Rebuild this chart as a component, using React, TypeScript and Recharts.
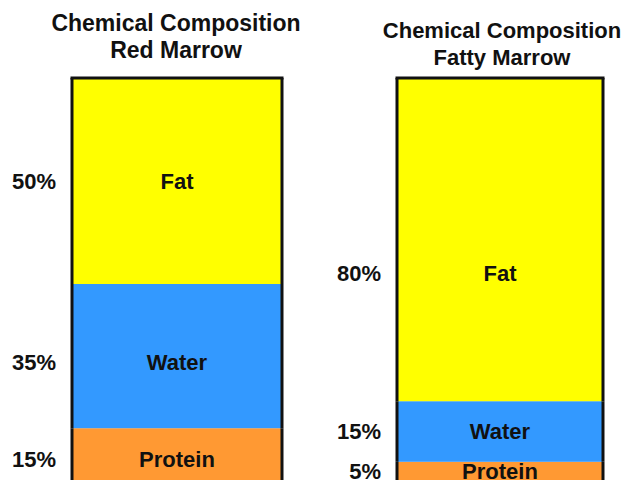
import React from 'react';
import { BarChart, Bar, XAxis, YAxis, LabelList } from 'recharts';

// stacked from the bottom up
const segments = ['Protein', 'Water', 'Fat'];
const segmentColors = ['#ff9933', '#3399ff', '#ffff00'];
const redMarrow = [15, 35, 50];
const fattyMarrow = [5, 15, 80];
const titleTop = 'Chemical Composition';
const marrowNames = ['Red Marrow', 'Fatty Marrow'];

const FONT = '"Liberation Sans", Arial, sans-serif';
const INK = '#111';

const toRow = (name: string, values: number[]) => {
  const row: Record<string, any> = { name };
  segments.forEach((s, i) => (row[s] = values[i]));
  return row;
};

// fill plus the outer frame only (no lines between segments)
const framed = (fill: string, isBottom: boolean, isTop: boolean) => (p: any) => {
  const { x, y, width, height } = p;
  const sw = 3;
  return (
    <g>
      <rect x={x} y={y} width={width} height={height} fill={fill} />
      <line x1={x} y1={y} x2={x} y2={y + height} stroke={INK} strokeWidth={sw} />
      <line x1={x + width} y1={y} x2={x + width} y2={y + height} stroke={INK} strokeWidth={sw} />
      {isTop && <line x1={x - sw / 2} y1={y} x2={x + width + sw / 2} y2={y} stroke={INK} strokeWidth={sw} />}
      {isBottom && <line x1={x - sw / 2} y1={y + height} x2={x + width + sw / 2} y2={y + height} stroke={INK} strokeWidth={sw} />}
    </g>
  );
};

const segLabel = (name: string, dy: number) => (p: any) => {
  const { x, y, width, height, value } = p;
  const cy = Number(y) + Number(height) / 2 + dy;
  const style = { fontFamily: FONT, fontWeight: 700, fontSize: 22, fill: INK };
  return (
    <g>
      <text x={Number(x) - 16} y={cy} textAnchor="end" dominantBaseline="central" style={style}>
        {value}%
      </text>
      <text x={Number(x) + Number(width) / 2} y={cy} textAnchor="middle" dominantBaseline="central" style={style}>
        {name}
      </text>
    </g>
  );
};

type PanelProps = {
  name: string;
  values: number[];
  left: number;
  margin: { top: number; right: number; bottom: number; left: number };
  titleY: number;
  titleX: number;
  titleSize: number;
  labelShift: Record<string, number>;
};

function Panel({ name, values, left, margin, titleY, titleX, titleSize, labelShift }: PanelProps) {
  const data = [toRow(name, values)];
  return (
    <div style={{ position: 'absolute', left, top: 0, width: 315, height: 500 }}>
      <div
        style={{
          position: 'absolute',
          left: titleX - 150,
          top: titleY,
          width: 300,
          textAlign: 'center',
          fontFamily: FONT,
          fontWeight: 700,
          fontSize: titleSize,
          lineHeight: '27px',
          color: INK,
          whiteSpace: 'nowrap',
        }}
      >
        <div>{titleTop}</div>
        <div>{name}</div>
      </div>
      <BarChart width={315} height={500} data={data} margin={margin} barCategoryGap={0}>
        <XAxis dataKey="name" hide />
        <YAxis hide domain={[0, 100]} />
        {segments.map((s, i) => (
          <Bar
            key={s}
            dataKey={s}
            stackId="a"
            isAnimationActive={false}
            shape={framed(segmentColors[i], i === 0, i === segments.length - 1)}
          >
            <LabelList dataKey={s} content={segLabel(s, labelShift[s] ?? 0)} />
          </Bar>
        ))}
      </BarChart>
    </div>
  );
}

export default function App() {
  return (
    <div style={{ position: 'relative', width: 630, height: 488, margin: -8, overflow: 'hidden', background: '#fff' }}>
      <Panel
        name={marrowNames[0]}
        values={redMarrow}
        left={0}
        margin={{ top: 78, right: 33, bottom: 10, left: 72 }}
        titleX={176}
        titleY={10}
        titleSize={23}
        labelShift={{ Water: 6 }}
      />
      <Panel
        name={marrowNames[1]}
        values={fattyMarrow}
        left={315}
        margin={{ top: 78, right: 27, bottom: 18, left: 82 }}
        titleX={187}
        titleY={17}
        titleSize={22}
        labelShift={{ Fat: 34 }}
      />
    </div>
  );
}
